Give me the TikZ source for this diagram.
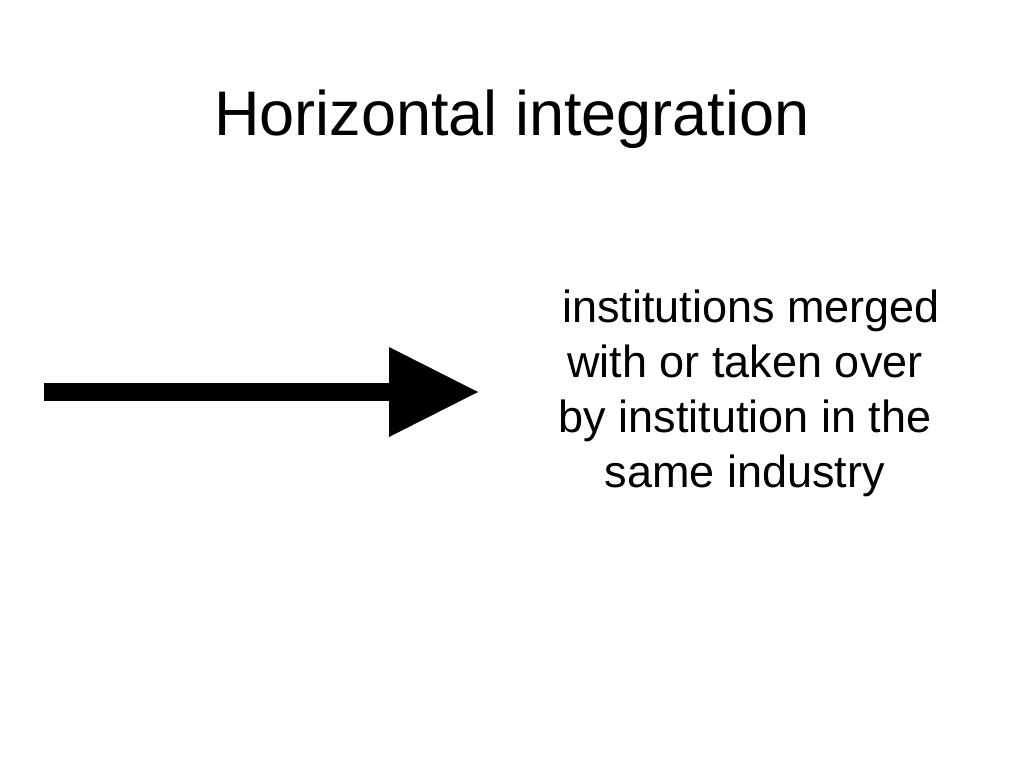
\documentclass[tikz,border=0pt]{standalone}
\usepackage{fontspec}
\setmainfont{Liberation Sans}
\usetikzlibrary{arrows.meta}

\begin{document}
\begin{tikzpicture}[x=1pt, y=1pt, inner sep=0pt,
	heading/.style={anchor=base, font=\fontsize{63}{75}\selectfont},
	body/.style={anchor=north, align=center, font=\fontsize{45}{55}\selectfont},
	bigarrow/.style={line width=18pt, -{Triangle[length=89pt, width=90pt, line width=0pt]}}]
	\useasboundingbox (0,0) rectangle (1024,-768);
	
	\node[heading](title) at (512,-135) {Horizontal integration};
	\node[body](merged) at (745,-290) {\ institutions merged\\with or taken over\\by institution in the\\same industry};
	
	\coordinate (tail) at (44,-392);
	\coordinate (tip) at (478,-392);
	\draw[bigarrow] (tail) -- (tip);
\end{tikzpicture}
\end{document}
